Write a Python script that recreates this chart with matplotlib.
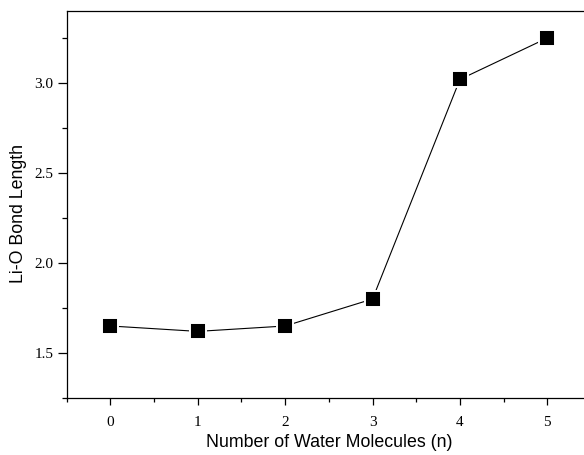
#!/usr/bin/env python3
"""
Li-O bond length vs number of water molecules
"""
import matplotlib
matplotlib.use("Agg")
import matplotlib.pyplot as plt
from matplotlib.ticker import MultipleLocator

n_water = [0, 1, 2, 3, 4, 5]
bond_length = [1.65, 1.62, 1.65, 1.80, 3.02, 3.25]
x_ticks = [0, 1, 2, 3, 4, 5]
y_ticks = [1.5, 2.0, 2.5, 3.0]


def main():
    fig = plt.figure(figsize=(5.84, 4.55), dpi=100)
    # axes runs a little past the right edge of the picture, like the original
    ax = fig.add_axes([0.1142, 0.1253, 0.8978, 0.8505])

    ax.plot(n_water, bond_length, color="black", lw=0.8, zorder=2)
    ax.plot(n_water, bond_length, ls="none", marker="s", markersize=11,
            markerfacecolor="black", markeredgecolor="white",
            markeredgewidth=1.4, zorder=3)

    ax.set_xlim(-0.5, 5.5)
    ax.set_ylim(1.25, 3.4)
    ax.set_xticks(x_ticks)
    ax.set_yticks(y_ticks)
    ax.xaxis.set_minor_locator(MultipleLocator(0.5))
    ax.yaxis.set_minor_locator(MultipleLocator(0.25))
    ax.yaxis.set_major_formatter(plt.FormatStrFormatter("%.1f"))

    ax.tick_params(which="both", direction="out", width=0.9, labelsize=11,
                   top=False, right=False)
    ax.tick_params(axis="x", which="major", length=5, pad=8)
    ax.tick_params(axis="x", which="minor", length=3)
    ax.tick_params(axis="y", which="major", length=6.5, pad=3)
    ax.tick_params(axis="y", which="minor", length=3.6)
    for lab in ax.get_xticklabels() + ax.get_yticklabels():
        lab.set_family("Liberation Serif")

    ax.spines["right"].set_visible(False)
    for s in ["left", "bottom", "top"]:
        ax.spines[s].set_linewidth(0.9)

    ax.set_xlabel("Number of Water Molecules (n)", family="Liberation Sans",
                  fontsize=12.8)
    ax.set_ylabel("Li-O Bond Length", family="Liberation Sans", fontsize=12.8)
    ax.yaxis.set_label_coords(-0.076, 0.477)
    ax.xaxis.set_label_coords(0.5, -0.093)

    fig.savefig("out.png", dpi=100)


if __name__ == '__main__':
    main()
